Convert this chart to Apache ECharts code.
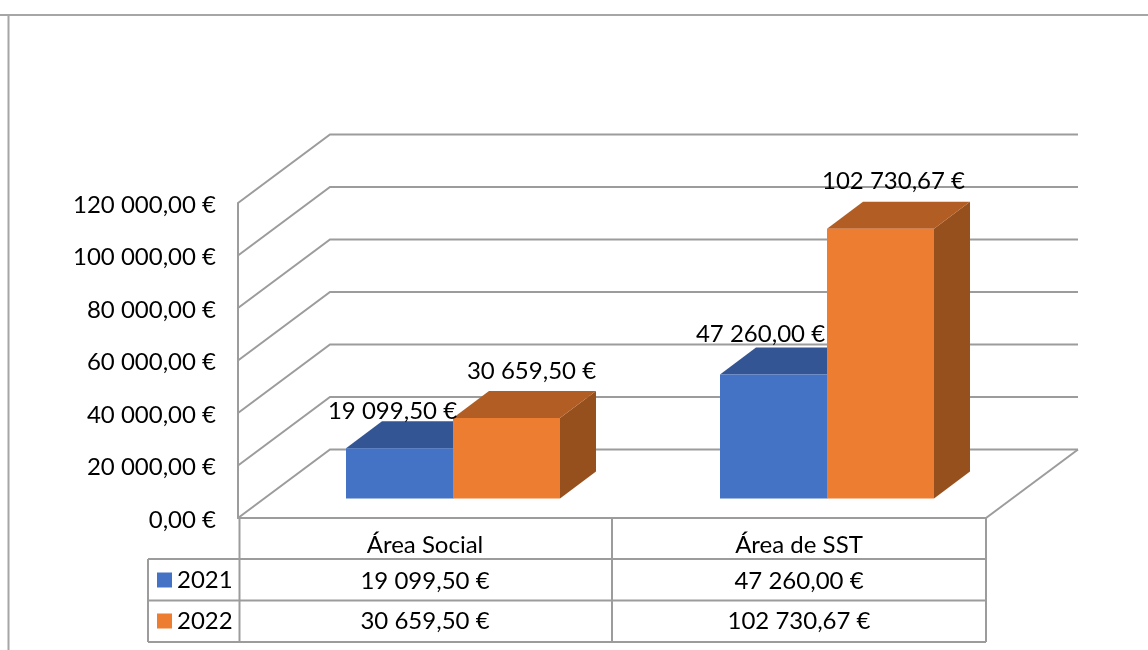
<!DOCTYPE html>
<html>
<head>
<meta charset="utf-8">
<title>Área Social / Área de SST</title>
<style>
    html, body { margin: 0; padding: 0; background: #fff; }
    #chart { width: 1148px; height: 650px; }
</style>
</head>
<body>
<div id="chart"></div>
<script src="https://cdn.jsdelivr.net/npm/echarts@6/dist/echarts.min.js"></script>
<script>
    var categories = ['Área Social', 'Área de SST'];
    var years = ['2021', '2022'];
    var values2021 = [19099.5, 47260];
    var values2022 = [30659.5, 102730.67];
    var yTicks = [0, 20000, 40000, 60000, 80000, 100000, 120000];

    var fontName = 'Lato';
    var lineColor = '#9c9c9c';
    var faces2021 = { front: '#4472c4', top: '#335593', side: '#2a4677' };
    var faces2022 = { front: '#ed7d31', top: '#b15d23', side: '#96501d' };

    // depth of the floor and of the boxes standing on it
    var wallDx = 92, wallDy = -68.5;
    var boxInsetDx = 28, boxInsetDy = -19.5;
    var boxDx = 36, boxDy = -27;
    var barRatio = 107 / 374;

    // the data labels were moved by hand in the original
    var labelShift2021 = [[-7, -37.5], [-13, -40.5]];
    var labelShift2022 = [[25, -46.5], [13, -47.5]];

    function euro(v) {
        var parts = v.toFixed(2).split('.');
        return parts[0].replace(/\B(?=(\d{3})+(?!\d))/g, ' ') + ',' + parts[1] + ' €';
    }

    function renderWall(params, api) {
        var p = api.coord([0, api.value(1)]);
        var rect = params.coordSys;
        var x = rect.x, y = p[1];
        var children = [{
            type: 'polyline',
            shape: { points: [[x, y], [x + wallDx, y + wallDy], [x + rect.width + wallDx, y + wallDy]] },
            style: { stroke: lineColor, lineWidth: 2, fill: null }
        }];
        if (api.value(1) === 0) {
            children.push({
                type: 'line',
                shape: { x1: x + rect.width, y1: y, x2: x + rect.width + wallDx, y2: y + wallDy },
                style: { stroke: lineColor, lineWidth: 2 }
            });
        }
        return { type: 'group', children: children };
    }

    function boxRenderer(side, faces, shifts) {
        return function (params, api) {
            var i = api.value(0);
            var base = api.coord([i, 0]);
            var top = api.coord([i, api.value(1)]);
            var w = api.size([1, 0])[0] * barRatio;
            var x0 = base[0] + boxInsetDx + (side === 0 ? -w : 0);
            var x1 = x0 + w;
            var y0 = base[1] + boxInsetDy;
            var y1 = top[1] + boxInsetDy;
            return {
                type: 'group',
                children: [{
                    type: 'polygon',
                    shape: { points: [[x1, y0], [x1 + boxDx, y0 + boxDy], [x1 + boxDx, y1 + boxDy], [x1, y1]] },
                    style: { fill: faces.side }
                }, {
                    type: 'polygon',
                    shape: { points: [[x0, y1], [x1, y1], [x1 + boxDx, y1 + boxDy], [x0 + boxDx, y1 + boxDy]] },
                    style: { fill: faces.top }
                }, {
                    type: 'rect',
                    shape: { x: x0, y: y1, width: w, height: y0 - y1 },
                    style: { fill: faces.front }
                }, {
                    type: 'text',
                    z2: 100,
                    style: {
                        x: (x0 + x1) / 2 + shifts[i][0],
                        y: y1 + shifts[i][1],
                        text: euro(api.value(1)),
                        fill: '#000',
                        font: '24px ' + fontName,
                        align: 'center',
                        verticalAlign: 'middle'
                    }
                }]
            };
        };
    }

    function tableLine(x1, y1, x2, y2, color, width) {
        return {
            type: 'line',
            silent: true,
            z: 1,
            shape: { x1: x1, y1: y1, x2: x2, y2: y2 },
            style: { stroke: color || lineColor, lineWidth: width || 2 }
        };
    }

    var pairs = function (arr) {
        return arr.map(function (v, i) { return [i, v]; });
    };

    var option = {
        animation: false,
        backgroundColor: '#fff',
        textStyle: { fontFamily: fontName },
        grid: { left: 238, top: 203, width: 748, height: 315 },
        legend: {
            orient: 'vertical',
            left: 157,
            top: 568,
            data: years,
            icon: 'rect',
            itemWidth: 15,
            itemHeight: 15,
            itemGap: 17,
            padding: 0,
            selectedMode: false,
            textStyle: { fontSize: 24, fontFamily: fontName, color: '#000' }
        },
        xAxis: {
            type: 'category',
            data: categories,
            axisTick: { show: false },
            axisLine: { lineStyle: { color: lineColor, width: 2 } },
            axisLabel: {
                margin: 11,
                interval: 0,
                formatter: function (name, i) {
                    return '{head|' + name + '}\n{cell|' + euro(values2021[i]) + '}\n{cell|' + euro(values2022[i]) + '}';
                },
                rich: {
                    head: { fontSize: 24, fontFamily: fontName, color: '#000', lineHeight: 32 },
                    cell: { fontSize: 24, fontFamily: fontName, color: '#000', lineHeight: 40 }
                }
            }
        },
        yAxis: {
            type: 'value',
            min: 0,
            max: 120000,
            interval: 20000,
            splitLine: { show: false },
            axisTick: { show: false },
            axisLine: { show: true, lineStyle: { color: lineColor, width: 2 } },
            axisLabel: {
                margin: 22,
                formatter: function (v) {
                    return '{t|' + euro(v) + '}';
                },
                rich: {
                    t: { fontSize: 24, fontFamily: fontName, color: '#000', padding: [4, 0, 0, 0] }
                }
            }
        },
        graphic: [
            // outer frame, only top and left are visible
            tableLine(0, 15, 1148, 15, '#a6a6a6', 2),
            tableLine(8.5, 15, 8.5, 650, '#a6a6a6', 2),
            // data table
            tableLine(239.5, 518, 239.5, 642),
            tableLine(612, 518, 612, 642),
            tableLine(986, 518, 986, 642),
            tableLine(148, 559, 986, 559),
            tableLine(148, 600.5, 986, 600.5),
            tableLine(148, 642, 986, 642),
            tableLine(148, 559, 148, 642)
        ],
        series: [{
            name: 'walls',
            type: 'custom',
            silent: true,
            z: 1,
            renderItem: renderWall,
            encode: { x: 0, y: 1 },
            data: yTicks.map(function (t) { return [0, t]; })
        }, {
            name: years[0],
            type: 'custom',
            renderItem: boxRenderer(0, faces2021, labelShift2021),
            itemStyle: { color: faces2021.front },
            encode: { x: 0, y: 1 },
            data: pairs(values2021)
        }, {
            name: years[1],
            type: 'custom',
            renderItem: boxRenderer(1, faces2022, labelShift2022),
            itemStyle: { color: faces2022.front },
            encode: { x: 0, y: 1 },
            data: pairs(values2022)
        }]
    };

    var chart = echarts.init(document.getElementById('chart'));
    chart.setOption(option);
</script>
</body>
</html>
